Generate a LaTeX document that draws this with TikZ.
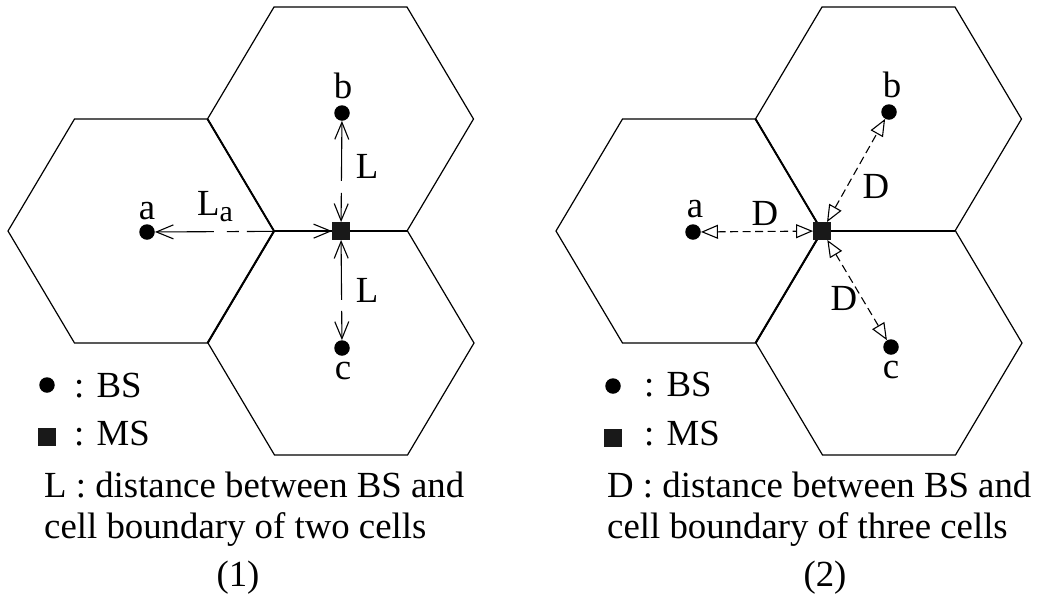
\documentclass[tikz,border=0pt]{standalone}
\usepackage{fontspec}
\setmainfont{Liberation Serif}
\usetikzlibrary{arrows.meta}
\begin{document}
\begin{tikzpicture}[x=1pt,y=-1pt,
  bs/.style={circle,fill=black,inner sep=0pt,minimum size=15.5pt},
  ms/.style={rectangle,fill=black!90,inner sep=0pt,minimum size=17.5pt},
  lbl/.style={font=\fontsize{36.8}{32}\selectfont,inner sep=0pt,anchor=base},
  lgd/.style={font=\fontsize{36.8}{32}\selectfont,inner sep=0pt,anchor=base west},
  hexline/.style={line width=1.2pt,line join=miter},
  sharedline/.style={line width=1.9pt},
  barbs/.style={line width=1.1pt,{Straight Barb[length=17pt,width=14pt]}-{Straight Barb[length=17pt,width=14pt]}},
  tris/.style={line width=1.1pt,dash pattern=on 8pt off 4.5pt,{Triangle[open,length=17pt,width=14pt]}-{Triangle[open,length=17pt,width=14pt]}},
]
\useasboundingbox (0,0) rectangle (1042,603);
% hexagonal cells
\foreach \cx/\cy in {141/231, 340.5/119, 341/343, 689/231, 888.5/119, 889/343}{
  \draw[hexline,shift={(\cx,\cy)}] (-133,0) -- (-66.5,-112) -- (66.5,-112) -- (133,0) -- (66.5,112) -- (-66.5,112) -- cycle;
}
% shared cell borders
\foreach \dx in {0,548}{
  \draw[sharedline,shift={(\dx,0)}] (207.5,119) -- (274,231) -- (207.5,343);
  \draw[sharedline,shift={(\dx,0)}] (274,231) -- (407,231);
}
% ---------- diagram (1)
\node[bs] (a1) at (147,232) {};
\node[bs] (b1) at (342,113) {};
\node[bs] (c1) at (342,348) {};
\node[ms] (m1) at (341,231) {};
\draw[barbs,dash pattern=on 57pt off 13pt on 12pt off 8pt] (a1) -- (m1);
\draw[barbs,dash pattern=on 58pt off 12pt on 200pt] (b1) -- (m1);
\draw[barbs,dash pattern=on 58pt off 11pt on 200pt] (m1) -- (c1);
\node[lbl] (ta1) at (147,219) {a};
\node[lbl] (tb1) at (343,98) {b};
\node[lbl] (tc1) at (343,379) {c};
\node[lgd] (tla) at (197,215) {L\raisebox{-6pt}{\fontsize{30}{30}\selectfont a}};
\node[lbl] (tl1) at (367,178) {L};
\node[lbl] (tl2) at (367,302) {L};
\node[bs] (kb1) at (47,385) {};
\node[lgd] (kbt1) at (74,397) {: BS};
\node[ms] (km1) at (47,437) {};
\node[lgd] (kmt1) at (74,445) {: MS};
\node[lgd] (def1a) at (44,497) {L : distance between BS and};
\node[lgd] (def1b) at (44,538) {cell boundary of two cells};
\node[lbl] (cap1) at (238,586) {(1)};
% ---------- diagram (2)
\node[bs] (a2) at (693,232) {};
\node[bs] (b2) at (889,112) {};
\node[bs] (c2) at (891,347) {};
\node[ms] (m2) at (822,231) {};
\draw[tris] (a2) -- (m2);
\draw[tris] (m2) -- (b2);
\draw[tris] (m2) -- (c2);
\node[lbl] (ta2) at (695,217) {a};
\node[lbl] (tb2) at (892,97) {b};
\node[lbl] (tc2) at (891,378) {c};
\node[lbl] (td1) at (765,225) {D};
\node[lbl] (td2) at (876,198) {D};
\node[lbl] (td3) at (844,310) {D};
\node[bs] (kb2) at (613,386) {};
\node[lgd] (kbt2) at (644,396) {: BS};
\node[ms] (km2) at (613,438) {};
\node[lgd] (kmt2) at (644,445) {: MS};
\node[lgd] (def2a) at (607,497) {D : distance between BS and};
\node[lgd] (def2b) at (607,538) {cell boundary of three cells};
\node[lbl] (cap2) at (825,586) {(2)};
\end{tikzpicture}
\end{document}
